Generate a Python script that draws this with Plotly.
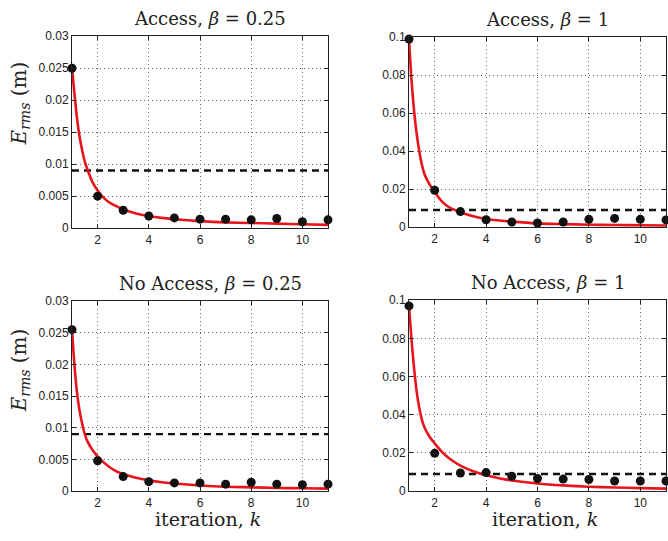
import plotly.graph_objects as go

# ---- data ----
k = [1, 2, 3, 4, 5, 6, 7, 8, 9, 10, 11]

acc025_pts = [0.025, 0.005, 0.0028, 0.0019, 0.0016, 0.0014, 0.0014, 0.0013, 0.0015, 0.0010, 0.0013]
acc1_pts = [0.099, 0.0194, 0.0082, 0.0039, 0.0027, 0.0022, 0.0027, 0.0041, 0.0046, 0.0041, 0.0038]
noacc025_pts = [0.0255, 0.0048, 0.0023, 0.0015, 0.0013, 0.0013, 0.0011, 0.0014, 0.0011, 0.0010, 0.0011]
noacc1_pts = [0.097, 0.0198, 0.0095, 0.0097, 0.0078, 0.0066, 0.0063, 0.0061, 0.0053, 0.0053, 0.0053]

fit_k = [1, 1.1, 1.2, 1.3, 1.4, 1.5, 1.6, 1.8, 2, 2.25, 2.5, 2.75, 3, 3.5, 4, 4.5, 5, 6, 7, 8, 9, 10, 11]
acc025_fit = [0.025, 0.0208, 0.0170, 0.0142, 0.0121, 0.0104, 0.0092, 0.0072, 0.0059, 0.0047, 0.0039,
              0.0034, 0.0029, 0.0023, 0.0019, 0.0016, 0.0014, 0.0011, 0.0009, 0.0008, 0.0007, 0.0006, 0.0005]
acc1_fit = [0.099, 0.077, 0.061, 0.049, 0.040, 0.033, 0.028, 0.0225, 0.0185, 0.0140, 0.0110,
            0.0092, 0.0078, 0.0057, 0.0043, 0.0035, 0.0029, 0.0020, 0.0016, 0.0013, 0.0011, 0.0010, 0.0009]
noacc025_fit = [0.0255, 0.0197, 0.0154, 0.0126, 0.0106, 0.0090, 0.0079, 0.0065, 0.0055, 0.0045, 0.0037,
                0.0031, 0.0027, 0.0021, 0.0017, 0.0014, 0.0012, 0.0009, 0.0007, 0.0006, 0.0005, 0.00045, 0.0004]
noacc1_fit = [0.097, 0.079, 0.064, 0.052, 0.0435, 0.0375, 0.0335, 0.0285, 0.0250, 0.0210, 0.0179,
              0.0154, 0.0134, 0.0104, 0.0083, 0.0068, 0.0056, 0.0040, 0.0030, 0.0023, 0.0019, 0.0016, 0.0013]

threshold = 0.009

titles = ["Access, <i>β</i> = 0.25", "Access, <i>β</i> = 1",
          "No Access, <i>β</i> = 0.25", "No Access, <i>β</i> = 1"]
xticks = [2, 4, 6, 8, 10]
yticks_small = [0, 0.005, 0.01, 0.015, 0.02, 0.025, 0.03]
yticks_small_text = ["0", "0.005", "0.01", "0.015", "0.02", "0.025", "0.03"]
yticks_big = [0, 0.02, 0.04, 0.06, 0.08, 0.1]
yticks_big_text = ["0", "0.02", "0.04", "0.06", "0.08", "0.1"]

W, H = 668, 541
panels = [
    (acc025_pts, acc025_fit, 0.03, yticks_small, yticks_small_text, 72, 328, 30, 227),
    (acc1_pts, acc1_fit, 0.1, yticks_big, yticks_big_text, 409, 666, 31, 226),
    (noacc025_pts, noacc025_fit, 0.03, yticks_small, yticks_small_text, 72, 328, 302, 497),
    (noacc1_pts, noacc1_fit, 0.1, yticks_big, yticks_big_text, 409, 666, 301, 497),
]

fig = go.Figure()
layout = dict(width=W, height=H, margin=dict(l=0, r=0, t=0, b=0),
              paper_bgcolor="white", plot_bgcolor="white", showlegend=False)
annotations = []
tickfont = dict(family="Liberation Sans, Arial", size=12, color="#222")
serif = "DejaVu Serif, Liberation Serif, serif"

for i, (pts, fv, ytop, yt, ytt, L, R, T, B) in enumerate(panels):
    n = "" if i == 0 else str(i + 1)
    xa, ya = "x" + n, "y" + n
    fig.add_trace(go.Scatter(x=[1, 11], y=[threshold, threshold], mode="lines",
                             line=dict(color="#111", width=2.4, dash="7px,5px"),
                             xaxis=xa, yaxis=ya))
    fig.add_trace(go.Scatter(x=fit_k, y=fv, mode="lines",
                             line=dict(color="#e8141c", width=2.6, shape="spline", smoothing=0.8),
                             xaxis=xa, yaxis=ya))
    fig.add_trace(go.Scatter(x=k, y=pts, mode="markers",
                             marker=dict(color="#111", size=9),
                             xaxis=xa, yaxis=ya, cliponaxis=False))
    common = dict(showline=True, linecolor="#222", linewidth=1, mirror="ticks",
                  showgrid=True, gridcolor="#666", griddash="1px,3px", gridwidth=1,
                  zeroline=False, ticks="inside", ticklen=4, tickcolor="#222",
                  tickfont=tickfont)
    layout["xaxis" + n] = dict(common, domain=[L / W, R / W], range=[1, 11],
                               tickvals=xticks, anchor=ya)
    layout["yaxis" + n] = dict(common, domain=[1 - B / H, 1 - T / H], range=[0, ytop],
                               tickvals=yt, ticktext=ytt, anchor=xa)
    annotations.append(dict(text=titles[i], x=((L + R) / 2 + 10) / W, y=1 - (T - 18) / H,
                            xref="paper", yref="paper", showarrow=False,
                            xanchor="center", yanchor="middle",
                            font=dict(family=serif, size=18, color="#222")))

for yc in [99, 373]:
    annotations.append(dict(text="<i>E</i><sub><i>rms</i></sub> (m)", x=20 / W, y=1 - yc / H,
                            xref="paper", yref="paper", showarrow=False, textangle=-90,
                            xanchor="center", yanchor="middle",
                            font=dict(family=serif, size=20, color="#222")))
for xc in [208, 545]:
    annotations.append(dict(text="iteration, <i>k</i>", x=xc / W, y=1 - 526 / H,
                            xref="paper", yref="paper", showarrow=False,
                            xanchor="center", yanchor="middle",
                            font=dict(family=serif, size=19, color="#222")))

layout["annotations"] = annotations
fig.update_layout(**layout)
fig.write_html("out.html")
